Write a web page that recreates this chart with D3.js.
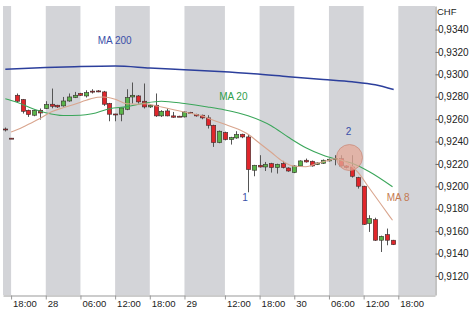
<!DOCTYPE html>
<html><head><meta charset="utf-8">
<script src="https://cdn.jsdelivr.net/npm/d3@7"></script>
<style>
body{margin:0;background:#fff;}
text{font-family:"Liberation Sans",Arial,sans-serif;}
</style></head><body>
<svg id="chart" width="476" height="311"></svg>
<script>
// hourly bars, index 0 = 28th 00:00 (some night hours missing)
const barIdx = d3.range(-7, 61);
const open  = [0.92512,0.92430,0.92813,0.92775,0.92679,0.92635,0.92679,0.92695,0.92733,0.92724,0.92718,0.92762,0.92793,0.92829,0.92807,0.92850,0.92852,0.92843,0.92739,0.92646,0.92644,0.92688,0.92798,0.92807,0.92760,0.92709,0.92724,0.92629,0.92673,0.92629,0.92626,0.92620,0.92660,0.92641,0.92635,0.92611,0.92545,0.92391,0.92480,0.92418,0.92432,0.92465,0.92441,0.92144,0.92188,0.92173,0.92203,0.92168,0.92203,0.92164,0.92123,0.92182,0.92233,0.92224,0.92195,0.92206,0.92227,0.92250,0.92248,0.92182,0.92173,0.92078,0.92001,0.91668,0.91703,0.91519,0.91569,0.91519];
const high  = [0.92525,0.92432,0.92829,0.92780,0.92685,0.92685,0.92695,0.92760,0.92873,0.92728,0.92798,0.92829,0.92843,0.92835,0.92858,0.92867,0.92860,0.92852,0.92745,0.92648,0.92705,0.92867,0.92927,0.92815,0.92918,0.92735,0.92829,0.92680,0.92697,0.92664,0.92630,0.92670,0.92665,0.92648,0.92640,0.92635,0.92550,0.92498,0.92488,0.92442,0.92492,0.92470,0.92465,0.92192,0.92278,0.92218,0.92210,0.92202,0.92227,0.92170,0.92188,0.92232,0.92248,0.92230,0.92214,0.92240,0.92248,0.92278,0.92278,0.92188,0.92278,0.92085,0.92005,0.91742,0.91720,0.91560,0.91623,0.91522];
const low   = [0.92490,0.92426,0.92745,0.92650,0.92620,0.92626,0.92596,0.92690,0.92697,0.92700,0.92712,0.92755,0.92788,0.92808,0.92793,0.92829,0.92840,0.92718,0.92581,0.92581,0.92581,0.92680,0.92739,0.92739,0.92695,0.92700,0.92620,0.92620,0.92625,0.92612,0.92620,0.92615,0.92652,0.92622,0.92599,0.92516,0.92352,0.92385,0.92410,0.92373,0.92425,0.92430,0.91947,0.92090,0.92168,0.92137,0.92123,0.92114,0.92160,0.92130,0.92118,0.92176,0.92212,0.92176,0.92190,0.92200,0.92222,0.92188,0.92176,0.92160,0.92078,0.91980,0.91655,0.91593,0.91512,0.91414,0.91474,0.91476];
const close = [0.92508,0.92428,0.92760,0.92670,0.92641,0.92679,0.92655,0.92730,0.92715,0.92709,0.92762,0.92798,0.92813,0.92813,0.92837,0.92848,0.92846,0.92733,0.92644,0.92642,0.92700,0.92793,0.92813,0.92754,0.92709,0.92724,0.92629,0.92670,0.92629,0.92617,0.92624,0.92664,0.92658,0.92629,0.92611,0.92545,0.92391,0.92492,0.92418,0.92436,0.92462,0.92441,0.92150,0.92188,0.92173,0.92197,0.92168,0.92197,0.92168,0.92137,0.92182,0.92227,0.92218,0.92182,0.92209,0.92233,0.92242,0.92248,0.92182,0.92168,0.92090,0.92001,0.91661,0.91712,0.91519,0.91554,0.91519,0.91480];

// moving averages
const ma200Idx = [-7,0,5,12,18,24,30,36,42,48,53,57,60.2];
const ma200Val = [0.93046,0.93061,0.93068,0.93074,0.93057,0.93041,0.93025,0.93005,0.92979,0.92954,0.92934,0.92907,0.92864];
const ma20Idx = [-7,-5,-2,0,3,6,8,11,14,17,20,24,28,31,35,39,42,45,48,50,53,56,60];
const ma20Val = [0.92782,0.92751,0.92688,0.92657,0.92632,0.92635,0.92648,0.92693,0.92712,0.92742,0.92760,0.92739,0.92709,0.92682,0.92630,0.92541,0.92438,0.92345,0.92278,0.92246,0.92206,0.92130,0.91996];
const ma8Idx = [-6,-5,-3,-1,1,3,5,7,9,10,12,14,16,17,19,21,23,25,27,29,31,33,35,37,39,41,43,45,47,49,50,52,54,56,58,60];
const ma8Val = [0.92486,0.92505,0.92554,0.92605,0.92666,0.92702,0.92733,0.92769,0.92796,0.92798,0.92778,0.92737,0.92733,0.92737,0.92720,0.92697,0.92675,0.92653,0.92630,0.92590,0.92554,0.92516,0.92465,0.92385,0.92304,0.92224,0.92179,0.92175,0.92206,0.92233,0.92246,0.92215,0.92126,0.91983,0.91840,0.91697];

// shaded 6-hour sessions (bar index ranges)
const bands = [[-8,-6],[0,6],[12,18],[24,31],[37,43],[49,55],[61,68]];

const xTickIdx = [-6,0,6,12,18,24,31,37,43,49,55,61];
const xTickLabels = ["18:00","28","06:00","12:00","18:00","29","12:00","18:00","30","06:00","12:00","18:00"];
const yTicks = [0.9120,0.9140,0.9160,0.9180,0.9200,0.9220,0.9240,0.9260,0.9280,0.9300,0.9320,0.9340];

const svg = d3.select("#chart");
const plotL = 3, plotR = 435, plotT = 6, plotB = 295;

const x = d3.scaleLinear().domain([-7.4, 67.35]).range([plotL, plotR]);
const y = d3.scaleLinear().domain([0.9103, 0.9361]).range([plotB, plotT]);

svg.append("defs").append("clipPath").attr("id","plotClip")
  .append("rect").attr("x",plotL).attr("y",plotT).attr("width",plotR-plotL).attr("height",plotB-plotT);

const plot = svg.append("g").attr("clip-path","url(#plotClip)");

plot.selectAll(".band").data(bands).join("rect")
  .attr("class","band")
  .attr("x", d => x(d[0]))
  .attr("width", d => x(d[1]) - x(d[0]))
  .attr("y", plotT).attr("height", plotB - plotT)
  .attr("fill","#d3d4d8");

const line = (xs, vs) => d3.line().curve(d3.curveMonotoneX)
  .x((d,i) => x(xs[i])).y(d => y(d))(vs);

plot.append("path").attr("d", line(ma200Idx, ma200Val))
  .attr("fill","none").attr("stroke","#2c3f9c").attr("stroke-width",1.5);

const candles = barIdx.map((d,i) => ({i:d, o:open[i], h:high[i], l:low[i], c:close[i]}));
const bw = 4.4;

const cg = plot.selectAll(".candle").data(candles).join("g").attr("class","candle");
cg.append("line")
  .attr("x1", d => Math.round(x(d.i)) + 0.5).attr("x2", d => Math.round(x(d.i)) + 0.5)
  .attr("y1", d => y(d.h)).attr("y2", d => y(d.l))
  .attr("stroke","#555").attr("stroke-width",1);
cg.append("rect")
  .attr("x", d => Math.round(x(d.i)) + 0.5 - bw/2)
  .attr("width", bw)
  .attr("y", d => y(Math.max(d.o, d.c)))
  .attr("height", d => Math.max(1, Math.abs(y(d.o) - y(d.c))))
  .attr("fill", d => d.c >= d.o ? "#5ab54a" : "#e0262b")
  .attr("stroke","#3a2e2e").attr("stroke-width",0.6);

plot.append("path").attr("d", line(ma20Idx, ma20Val))
  .attr("fill","none").attr("stroke","#3aa65a").attr("stroke-width",1.1);
plot.append("path").attr("d", line(ma8Idx, ma8Val))
  .attr("fill","none").attr("stroke","#d9a58e").attr("stroke-width",1.1);

// annotation circle
plot.append("circle")
  .attr("cx", x(52.55)).attr("cy", y(0.92257)).attr("r", 13)
  .attr("fill","#e6aa98").attr("fill-opacity",0.75)
  .attr("stroke","#c98d7d").attr("stroke-width",0.8);

const notes = [
  {t:"MA 200", i:9,    v:0.93304, c:"#3a4fa8", a:"start"},
  {t:"MA 20",  i:30,   v:0.92798, c:"#2f9e4c", a:"start"},
  {t:"MA 8",   i:59,   v:0.91896, c:"#c47a52", a:"start"},
  {t:"2",      i:52.4, v:0.92492, c:"#3a4fa8", a:"middle"},
  {t:"1",      i:34.5, v:0.91903, c:"#3a4fa8", a:"middle"}
];
svg.selectAll(".note").data(notes).join("text")
  .attr("class","note")
  .attr("x", d => x(d.i)).attr("y", d => y(d.v))
  .attr("dy","0.35em")
  .attr("text-anchor", d => d.a)
  .attr("font-size", 10)
  .attr("fill", d => d.c)
  .text(d => d.t);

// y axis on the right
const yAxis = svg.append("g").attr("transform", `translate(${plotR+0.5},0)`)
  .call(d3.axisRight(y).tickValues(yTicks).tickSize(3).tickSizeOuter(0)
    .tickFormat(d => d.toFixed(4).replace(".", ",")));
yAxis.select(".domain").attr("stroke","#888");
yAxis.selectAll(".tick line").attr("stroke","#666");
yAxis.selectAll(".tick text").attr("x",2.5).attr("font-size",10)
  .attr("fill","#222").style("font-family","'Liberation Sans',Arial,sans-serif");

svg.append("text").attr("x", 437).attr("y", 12).attr("dy","0.35em")
  .attr("font-size",9.5).attr("fill","#222").text("CHF");

// x axis
const xAxis = svg.append("g").attr("transform", `translate(0,${plotB+0.5})`)
  .call(d3.axisBottom(x).tickValues(xTickIdx).tickSize(4).tickSizeOuter(0)
    .tickFormat((d,i) => xTickLabels[i]));
xAxis.select(".domain").attr("stroke","#999");
xAxis.selectAll(".tick line").attr("stroke","#999");
xAxis.selectAll(".tick text")
  .attr("text-anchor","start").attr("x",1.5).attr("y",11.5).attr("dy",0)
  .attr("font-size",9.5).attr("fill","#222")
  .style("font-family","'Liberation Sans',Arial,sans-serif");
</script>
</body></html>
